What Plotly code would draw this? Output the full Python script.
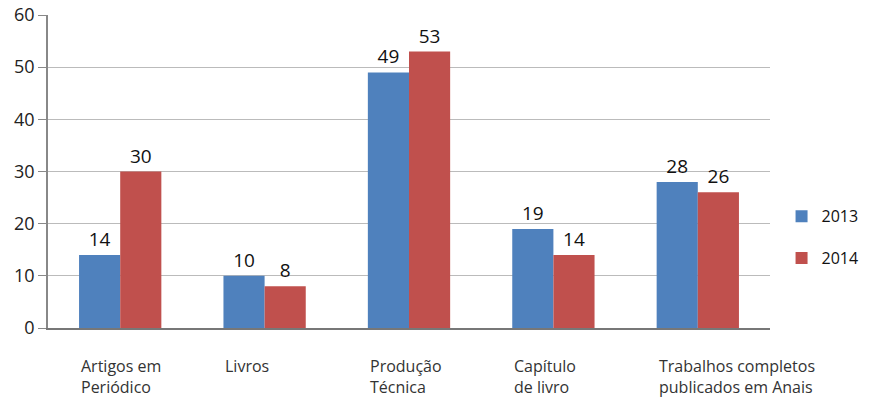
import plotly.graph_objects as go

categories = ["Artigos em<br>Periódico", "Livros", "Produção<br>Técnica",
              "Capítulo<br>de livro", "Trabalhos completos<br>publicados em Anais"]
series_names = ["2013", "2014"]
values_2013 = [14, 10, 49, 19, 28]
values_2014 = [30, 8, 53, 14, 26]
y_ticks = [0, 10, 20, 30, 40, 50, 60]

colors = ["#4F81BD", "#C0504D"]
idx = list(range(len(categories)))

fig = go.Figure()
for i, (name, vals) in enumerate(zip(series_names, [values_2013, values_2014])):
    fig.add_trace(go.Bar(
        x=idx, y=vals, name=name, legendgroup=name,
        marker=dict(color=colors[i], line=dict(width=0)),
        text=[str(v) for v in vals], textposition="outside",
        textfont=dict(family="Open Sans", size=19, color="#111"),
        cliponaxis=False,
    ))

# Category labels, left-aligned at the start of each bar group
for i, c in enumerate(categories):
    fig.add_annotation(x=i - 0.285, y=0, xref="x", yref="paper", yshift=-25,
                       text=c, showarrow=False, xanchor="left", yanchor="top",
                       align="left",
                       font=dict(family="Open Sans", size=16, color="#333"))

fig.update_layout(
    width=869, height=403,
    margin=dict(l=48, r=99, t=15, b=75, autoexpand=False),
    paper_bgcolor="white", plot_bgcolor="white",
    barmode="group", bargap=0.43, bargroupgap=0,
    showlegend=True,
    legend=dict(x=1.016, y=0.29, xanchor="left", yanchor="middle",
                font=dict(family="Open Sans", size=16, color="#111"),
                tracegroupgap=18, itemwidth=30),
    xaxis=dict(range=[-0.5, 4.5], showticklabels=False, ticks="",
               showgrid=False, showline=True, linecolor="#777", linewidth=1.5,
               zeroline=False),
    yaxis=dict(range=[0, 60], tickvals=y_ticks, showgrid=True,
               gridcolor="#BBBBBB", gridwidth=1, showline=True,
               linecolor="#888", linewidth=1.5, ticks="outside", ticklen=8,
               tickcolor="#888", zeroline=False,
               tickfont=dict(family="Open Sans", size=18, color="#222")),
)

fig.write_html("out.html")
